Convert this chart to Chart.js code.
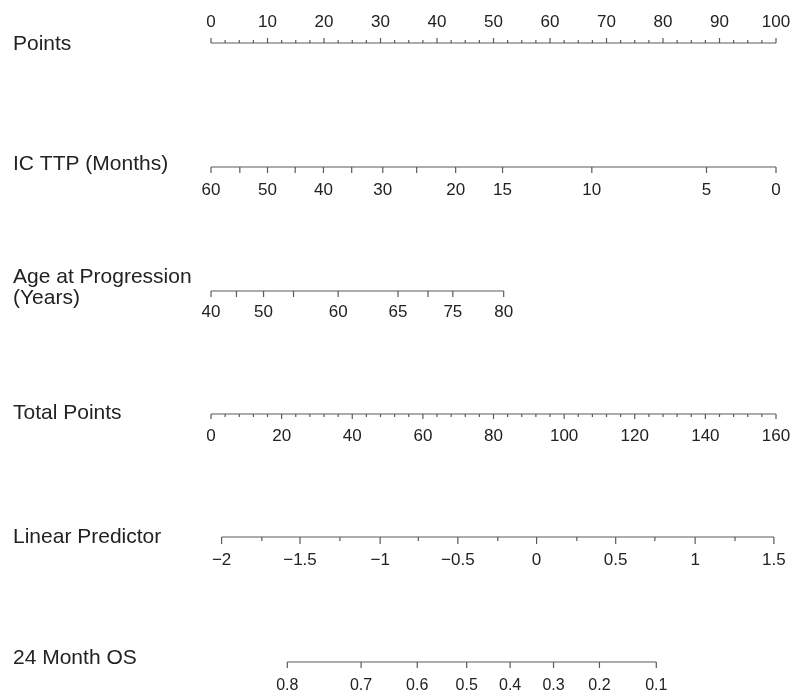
<!DOCTYPE html>
<html>
<head>
<meta charset="utf-8">
<script src="https://cdn.jsdelivr.net/npm/chart.js@4.4.1/dist/chart.umd.min.js"></script>
<style>
  html, body { margin: 0; padding: 0; background: #fff; }
  #wrap { width: 796px; height: 698px; position: relative; }
</style>
</head>
<body>
<div id="wrap"><canvas id="nomo"></canvas></div>
<script>
// nomogram: every axis is placed on the Points (0-100) or Total Points (0-160) scale

const pointsMajor = [0, 10, 20, 30, 40, 50, 60, 70, 80, 90, 100];
const pointsMinor = [2.5, 5, 7.5, 12.5, 15, 17.5, 22.5, 25, 27.5, 32.5, 35, 37.5, 42.5, 45, 47.5,
  52.5, 55, 57.5, 62.5, 65, 67.5, 72.5, 75, 77.5, 82.5, 85, 87.5, 92.5, 95, 97.5];

// IC TTP (months) -> points
const ttpValues = [60, 55, 50, 45, 40, 35, 30, 25, 20, 15, 10, 5, 0];
const ttpPoints = [0, 5.1, 10.0, 14.9, 19.9, 24.9, 30.4, 36.4, 43.3, 51.6, 67.4, 87.7, 100];
const ttpLabeled = [60, 50, 40, 30, 20, 15, 10, 5, 0];

// Age at progression (years) -> points
const ageValues = [40, 45, 50, 55, 60, 65, 70, 75, 80];
const agePoints = [0, 4.5, 9.3, 14.6, 22.5, 33.1, 38.4, 42.8, 51.8];
const ageLabeled = [40, 50, 60, 65, 75, 80];

const totalMajor = [0, 20, 40, 60, 80, 100, 120, 140, 160];
const totalMinor = [4, 8, 12, 16, 24, 28, 32, 36, 44, 48, 52, 56, 64, 68, 72, 76, 84, 88, 92, 96,
  104, 108, 112, 116, 124, 128, 132, 136, 144, 148, 152, 156];

// Linear predictor -> total points
const lpValues = [-2, -1.5, -1, -0.5, 0, 0.5, 1, 1.5];
const lpTotal = [3.0, 25.2, 47.9, 69.9, 92.2, 114.6, 137.1, 159.4];
const lpMinorTotal = [14.4, 36.5, 58.7, 81.2, 103.6, 125.7, 148.4];

// 24 month OS -> total points
const osValues = [0.8, 0.7, 0.6, 0.5, 0.4, 0.3, 0.2, 0.1];
const osTotal = [21.6, 42.5, 58.4, 72.4, 84.7, 97.0, 110.0, 126.1];

// layout (canvas pixels on the y scale)
const rowY = { points: 43, ttp: 167, age: 291, total: 414, lp: 537, os: 662 };
const LINE = "#5a5a5a";
const TEXT = "#222";

function segs(y, xs, len) {
  const out = [];
  xs.forEach((x) => {
    out.push({ x, y }, { x, y: y + len }, { x, y: null });
  });
  return out;
}

function axisSet(xs, y, majors, majLen, minors, minLen, axisID) {
  const lo = Math.min(...xs), hi = Math.max(...xs);
  const data = [{ x: lo, y }, { x: hi, y }, { x: hi, y: null }]
    .concat(segs(y, majors, majLen))
    .concat(segs(y, minors || [], minLen || 0));
  return {
    data, xAxisID: axisID, borderColor: LINE, borderWidth: 1.2,
    pointRadius: 0, spanGaps: false, tension: 0, fill: false
  };
}

const datasets = [
  axisSet(pointsMajor, rowY.points, pointsMajor, -5, pointsMinor, -3, "x"),
  axisSet(ttpPoints, rowY.ttp, ttpPoints, 6, null, 0, "x"),
  axisSet(agePoints, rowY.age, agePoints, 6, null, 0, "x"),
  axisSet(totalMajor, rowY.total, totalMajor, 5, totalMinor, 3, "xt"),
  axisSet(lpTotal, rowY.lp, lpTotal, 7, lpMinorTotal, 4, "xt"),
  axisSet(osTotal, rowY.os, osTotal, 6, null, 0, "xt"),
];

const rowTitles = [
  { text: ["Points"], y: 44 },
  { text: ["IC TTP (Months)"], y: 164 },
  { text: ["Age at Progression", "(Years)"], y: 277 },
  { text: ["Total Points"], y: 413 },
  { text: ["Linear Predictor"], y: 537 },
  { text: ["24 Month OS"], y: 658 },
];

function fmt(v) {
  return String(v).replace("-", "\u2212");
}

const labelPlugin = {
  id: "nomoLabels",
  afterDatasetsDraw(chart) {
    const ctx = chart.ctx;
    const sx = chart.scales.x, st = chart.scales.xt;
    ctx.save();
    ctx.fillStyle = TEXT;
    ctx.textBaseline = "middle";

    ctx.font = "21px 'Liberation Sans', Arial, sans-serif";
    ctx.textAlign = "left";
    rowTitles.forEach((r) => {
      r.text.forEach((t, i) => ctx.fillText(t, 13, r.y + i * 21));
    });

    ctx.font = "17px 'Liberation Sans', Arial, sans-serif";
    ctx.textAlign = "center";
    pointsMajor.forEach((v) => ctx.fillText(fmt(v), sx.getPixelForValue(v), 22));
    ttpLabeled.forEach((v) => {
      const p = ttpPoints[ttpValues.indexOf(v)];
      ctx.fillText(fmt(v), sx.getPixelForValue(p), 190);
    });
    ageLabeled.forEach((v) => {
      const p = agePoints[ageValues.indexOf(v)];
      ctx.fillText(fmt(v), sx.getPixelForValue(p), 312);
    });
    totalMajor.forEach((v) => ctx.fillText(fmt(v), st.getPixelForValue(v), 436));
    lpValues.forEach((v, i) => ctx.fillText(fmt(v), st.getPixelForValue(lpTotal[i]), 560));
    ctx.font = "16px 'Liberation Sans', Arial, sans-serif";
    osValues.forEach((v, i) => ctx.fillText(fmt(v), st.getPixelForValue(osTotal[i]), 686));
    ctx.restore();
  }
};

new Chart(document.getElementById("nomo"), {
  type: "line",
  data: { datasets },
  options: {
    responsive: true,
    maintainAspectRatio: false,
    animation: false,
    layout: { padding: 0 },
    plugins: { legend: { display: false }, tooltip: { enabled: false } },
    scales: {
      x: { type: "linear", min: -37.35, max: 103.54, display: false },
      xt: { type: "linear", min: -37.35 * 1.6, max: 103.54 * 1.6, display: false },
      y: { type: "linear", min: 0, max: 698, reverse: true, display: false }
    }
  },
  plugins: [labelPlugin]
});
</script>
</body>
</html>
